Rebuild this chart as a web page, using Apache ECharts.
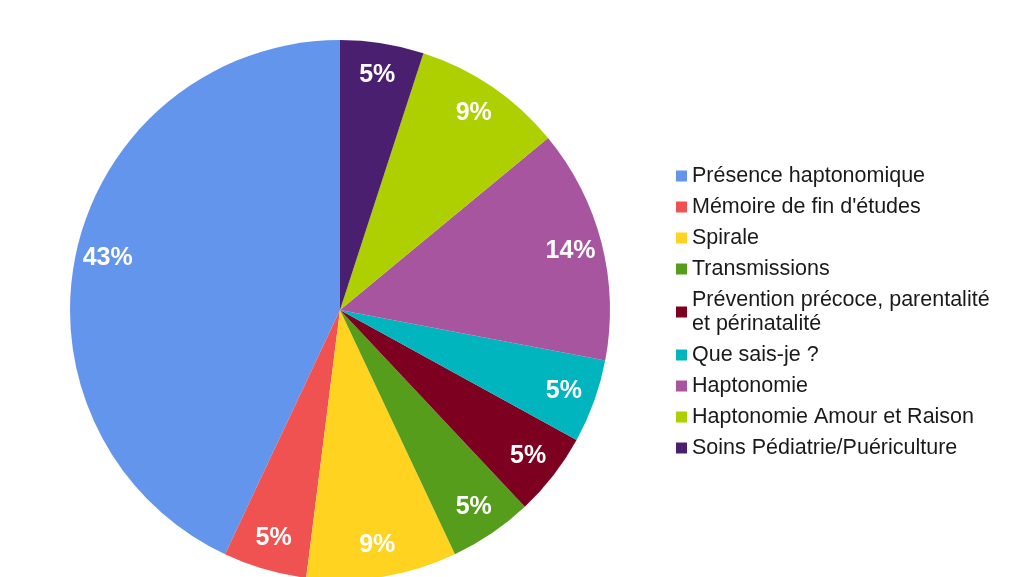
<!DOCTYPE html>
<html>
<head>
<meta charset="utf-8">
<script src="https://cdn.jsdelivr.net/npm/echarts@6/dist/echarts.min.js"></script>
<style>
  html, body { margin: 0; padding: 0; background: #fff; }
  #main { width: 1009px; height: 577px; }
</style>
</head>
<body>
<div id="main"></div>
<script>
const categories = [
  "Présence haptonomique",
  "Mémoire de fin d'études",
  "Spirale",
  "Transmissions",
  "Prévention précoce, parentalité\net périnatalité",
  "Que sais-je ?",
  "Haptonomie",
  "Haptonomie Amour et Raison",
  "Soins Pédiatrie/Puériculture"
];
const percents = [43, 5, 9, 5, 5, 5, 14, 9, 5];
const colors = ["#6495ed", "#f05252", "#ffd320", "#579d1c", "#7e0021", "#00b5be", "#a855a0", "#aecf00", "#4b1f6f"];

const pieData = categories.map((name, i) => ({
  name: name,
  value: percents[i],
  itemStyle: { color: colors[i] }
}));

// même données, anneau transparent pour placer les % près du bord
const labelData = categories.map((name, i) => ({ name: name, value: percents[i] }));

const chart = echarts.init(document.getElementById("main"));
chart.setOption({
  animation: false,
  backgroundColor: "#ffffff",
  legend: {
    orient: "vertical",
    left: 676,
    top: 164,
    padding: 0,
    icon: "rect",
    itemWidth: 11,
    itemHeight: 11,
    itemGap: 7,
    itemTextGap: 8,
    data: categories,
    textStyle: {
      fontFamily: "Liberation Sans",
      fontSize: 21.5,
      lineHeight: 24,
      color: "#1a1a1a"
    }
  },
  series: [
    {
      name: "main",
      type: "pie",
      center: [340, 310],
      radius: 270,
      startAngle: 90,
      clockwise: false,
      avoidLabelOverlap: false,
      label: { show: false },
      labelLine: { show: false },
      itemStyle: { borderWidth: 0 },
      emphasis: { disabled: true },
      data: pieData
    },
    {
      name: "labels",
      type: "pie",
      center: [340, 310],
      radius: [200, 270],
      startAngle: 90,
      clockwise: false,
      silent: true,
      avoidLabelOverlap: false,
      itemStyle: { color: "rgba(0,0,0,0)", borderWidth: 0 },
      emphasis: { disabled: true },
      label: {
        show: true,
        position: "inside",
        formatter: "{c}%",
        color: "#ffffff",
        fontFamily: "Liberation Sans",
        fontWeight: "bold",
        fontSize: 25
      },
      labelLine: { show: false },
      data: labelData
    }
  ]
});
</script>
</body>
</html>
